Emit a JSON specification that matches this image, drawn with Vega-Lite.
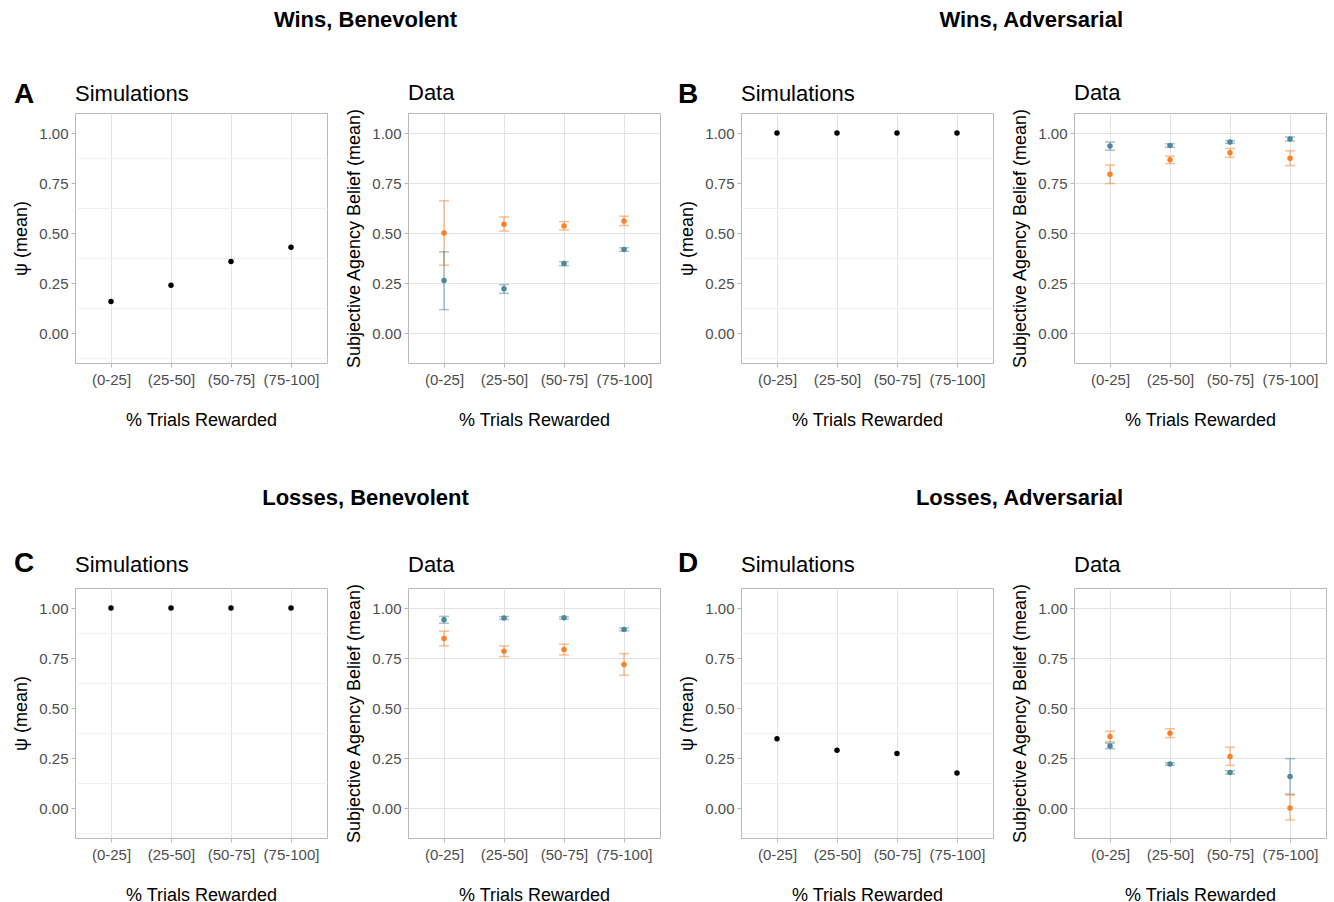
{
  "$schema": "https://vega.github.io/schema/vega-lite/v6.json",
  "padding": {"left": 12, "top": 0, "right": 5, "bottom": 4},
  "background": "white",
  "config": {
    "font": "Liberation Sans",
    "view": {"stroke": "#b8b8b8", "strokeWidth": 1},
    "axis": {"domain": false, "tickColor": "#b8b8b8", "tickSize": 4, "labelColor": "#4d4d4d", "labelFontSize": 15, "labelPadding": 3, "titleFontSize": 18, "titleFontWeight": "normal", "titleColor": "#000000", "grid": true, "gridColor": "#e4e4e4", "gridWidth": 1},
    "axisX": {"labelAngle": 0, "labelPadding": 5, "titlePadding": 24},
    "axisY": {"titlePadding": 8},
    "title": {"font": "Liberation Sans", "fontWeight": "normal", "fontSize": 22, "color": "#000000", "anchor": "start", "frame": "group", "baseline": "alphabetic"}
  },
  "datasets": {
    "sim": [
      {"panel": "A", "bin": "(0-25]", "psi": 0.157},
      {"panel": "A", "bin": "(25-50]", "psi": 0.239},
      {"panel": "A", "bin": "(50-75]", "psi": 0.358},
      {"panel": "A", "bin": "(75-100]", "psi": 0.429},
      {"panel": "B", "bin": "(0-25]", "psi": 1.0},
      {"panel": "B", "bin": "(25-50]", "psi": 1.0},
      {"panel": "B", "bin": "(50-75]", "psi": 1.0},
      {"panel": "B", "bin": "(75-100]", "psi": 1.0},
      {"panel": "C", "bin": "(0-25]", "psi": 1.0},
      {"panel": "C", "bin": "(25-50]", "psi": 1.0},
      {"panel": "C", "bin": "(50-75]", "psi": 1.0},
      {"panel": "C", "bin": "(75-100]", "psi": 1.0},
      {"panel": "D", "bin": "(0-25]", "psi": 0.346},
      {"panel": "D", "bin": "(25-50]", "psi": 0.289},
      {"panel": "D", "bin": "(50-75]", "psi": 0.273},
      {"panel": "D", "bin": "(75-100]", "psi": 0.175}
    ],
    "emp": [
      {"panel": "A", "group": "1", "bin": "(0-25]", "mean": 0.500, "lo": 0.339, "hi": 0.661},
      {"panel": "A", "group": "1", "bin": "(25-50]", "mean": 0.544, "lo": 0.510, "hi": 0.580},
      {"panel": "A", "group": "1", "bin": "(50-75]", "mean": 0.535, "lo": 0.515, "hi": 0.557},
      {"panel": "A", "group": "1", "bin": "(75-100]", "mean": 0.560, "lo": 0.537, "hi": 0.584},
      {"panel": "A", "group": "2", "bin": "(0-25]", "mean": 0.262, "lo": 0.117, "hi": 0.406},
      {"panel": "A", "group": "2", "bin": "(25-50]", "mean": 0.221, "lo": 0.198, "hi": 0.242},
      {"panel": "A", "group": "2", "bin": "(50-75]", "mean": 0.347, "lo": 0.337, "hi": 0.357},
      {"panel": "A", "group": "2", "bin": "(75-100]", "mean": 0.418, "lo": 0.409, "hi": 0.426},
      {"panel": "B", "group": "1", "bin": "(0-25]", "mean": 0.794, "lo": 0.747, "hi": 0.840},
      {"panel": "B", "group": "1", "bin": "(25-50]", "mean": 0.866, "lo": 0.847, "hi": 0.884},
      {"panel": "B", "group": "1", "bin": "(50-75]", "mean": 0.901, "lo": 0.878, "hi": 0.923},
      {"panel": "B", "group": "1", "bin": "(75-100]", "mean": 0.874, "lo": 0.837, "hi": 0.911},
      {"panel": "B", "group": "2", "bin": "(0-25]", "mean": 0.935, "lo": 0.914, "hi": 0.955},
      {"panel": "B", "group": "2", "bin": "(25-50]", "mean": 0.938, "lo": 0.929, "hi": 0.946},
      {"panel": "B", "group": "2", "bin": "(50-75]", "mean": 0.955, "lo": 0.948, "hi": 0.962},
      {"panel": "B", "group": "2", "bin": "(75-100]", "mean": 0.970, "lo": 0.960, "hi": 0.980},
      {"panel": "C", "group": "1", "bin": "(0-25]", "mean": 0.847, "lo": 0.810, "hi": 0.884},
      {"panel": "C", "group": "1", "bin": "(25-50]", "mean": 0.784, "lo": 0.757, "hi": 0.810},
      {"panel": "C", "group": "1", "bin": "(50-75]", "mean": 0.792, "lo": 0.765, "hi": 0.819},
      {"panel": "C", "group": "1", "bin": "(75-100]", "mean": 0.718, "lo": 0.664, "hi": 0.772},
      {"panel": "C", "group": "2", "bin": "(0-25]", "mean": 0.941, "lo": 0.924, "hi": 0.958},
      {"panel": "C", "group": "2", "bin": "(25-50]", "mean": 0.950, "lo": 0.943, "hi": 0.957},
      {"panel": "C", "group": "2", "bin": "(50-75]", "mean": 0.951, "lo": 0.945, "hi": 0.957},
      {"panel": "C", "group": "2", "bin": "(75-100]", "mean": 0.893, "lo": 0.886, "hi": 0.900},
      {"panel": "D", "group": "1", "bin": "(0-25]", "mean": 0.357, "lo": 0.331, "hi": 0.384},
      {"panel": "D", "group": "1", "bin": "(25-50]", "mean": 0.374, "lo": 0.352, "hi": 0.396},
      {"panel": "D", "group": "1", "bin": "(50-75]", "mean": 0.258, "lo": 0.213, "hi": 0.304},
      {"panel": "D", "group": "1", "bin": "(75-100]", "mean": 0.000, "lo": -0.060, "hi": 0.065},
      {"panel": "D", "group": "2", "bin": "(0-25]", "mean": 0.310, "lo": 0.297, "hi": 0.324},
      {"panel": "D", "group": "2", "bin": "(25-50]", "mean": 0.220, "lo": 0.214, "hi": 0.226},
      {"panel": "D", "group": "2", "bin": "(50-75]", "mean": 0.178, "lo": 0.170, "hi": 0.186},
      {"panel": "D", "group": "2", "bin": "(75-100]", "mean": 0.158, "lo": 0.069, "hi": 0.247}
    ]
  },
  "columns": 4,
  "bounds": "flush",
  "align": "each",
  "spacing": {"row": 112, "column": 81},
  "concat": [
    {"width": 1, "height": 1, "view": {"stroke": null}, "data": {"values": []}, "mark": "point",
     "title": {"text": "A", "orient": "bottom", "anchor": "start", "frame": "group", "dx": -61, "offset": 79.5, "fontSize": 28, "fontWeight": "bold"}},
    {"width": 1, "height": 1, "view": {"stroke": null}, "data": {"values": []}, "mark": "point",
     "title": {"text": "Wins, Benevolent", "orient": "bottom", "anchor": "middle", "frame": "group", "dx": -43, "offset": 9, "fontSize": 22, "fontWeight": "bold"}},
    {"width": 1, "height": 1, "view": {"stroke": null}, "data": {"values": []}, "mark": "point",
     "title": {"text": "B", "orient": "bottom", "anchor": "start", "frame": "group", "dx": -63, "offset": 79.5, "fontSize": 28, "fontWeight": "bold"}},
    {"width": 1, "height": 1, "view": {"stroke": null}, "data": {"values": []}, "mark": "point",
     "title": {"text": "Wins, Adversarial", "orient": "bottom", "anchor": "end", "frame": "group", "dx": 48, "offset": 9, "fontSize": 22, "fontWeight": "bold"}},

    {"width": 252, "height": 250, "title": {"text": "Simulations", "offset": 7},
     "data": {"name": "sim"}, "transform": [{"filter": {"field": "panel", "equal": "A"}}],
     "encoding": {"x": {"field": "bin", "type": "ordinal", "scale": {"type": "point", "padding": 0.6, "domain": ["(0-25]", "(25-50]", "(50-75]", "(75-100]"]}, "axis": {"title": "% Trials Rewarded"}}},
     "layer": [
       {"mark": {"type": "point", "opacity": 0}, "encoding": {"y": {"field": "psi", "type": "quantitative", "scale": {"domain": [-0.15, 1.1], "nice": false, "zero": false}, "axis": {"orient": "right", "values": [-0.125, 0.125, 0.375, 0.625, 0.875], "labels": false, "ticks": false, "title": null, "gridColor": "#f1f1f1"}}}},
       {"mark": {"type": "point", "filled": true, "size": 30, "color": "#000000", "opacity": 1}, "encoding": {"y": {"field": "psi", "type": "quantitative", "axis": {"title": "ψ (mean)", "values": [0, 0.25, 0.5, 0.75, 1], "format": ".2f"}}}}
     ],
     "resolve": {"axis": {"y": "independent"}}},
    {"width": 252, "height": 250, "title": {"text": "Data", "offset": 3},
     "data": {"name": "emp"}, "transform": [{"filter": {"field": "panel", "equal": "A"}}],
     "encoding": {"x": {"field": "bin", "type": "ordinal", "scale": {"type": "point", "padding": 0.6, "domain": ["(0-25]", "(25-50]", "(50-75]", "(75-100]"]}, "axis": {"title": "% Trials Rewarded"}},
       "color": {"field": "group", "type": "nominal", "scale": {"domain": ["1", "2"], "range": ["#FA8128", "#4D8799"]}, "legend": null}},
     "layer": [
       {"mark": {"type": "rule", "strokeWidth": 1.5, "opacity": 0.5}, "encoding": {"y": {"field": "lo", "type": "quantitative", "scale": {"domain": [-0.15, 1.1], "nice": false, "zero": false}, "axis": {"title": "Subjective Agency Belief (mean)", "values": [0, 0.25, 0.5, 0.75, 1], "format": ".2f"}}, "y2": {"field": "hi"}}},
       {"mark": {"type": "tick", "size": 10, "thickness": 1.5, "opacity": 0.5}, "encoding": {"y": {"field": "lo", "type": "quantitative", "axis": {"orient": "right", "values": [-0.125, 0.125, 0.375, 0.625, 0.875], "labels": false, "ticks": false, "title": null, "gridColor": "#f1f1f1"}}}},
       {"mark": {"type": "tick", "size": 10, "thickness": 1.5, "opacity": 0.5}, "encoding": {"y": {"field": "hi", "type": "quantitative", "axis": null}}},
       {"mark": {"type": "point", "filled": true, "size": 30, "opacity": 1}, "encoding": {"y": {"field": "mean", "type": "quantitative", "axis": null}}}
     ],
     "resolve": {"axis": {"y": "independent"}}},
    {"width": 252, "height": 250, "title": {"text": "Simulations", "offset": 7},
     "data": {"name": "sim"}, "transform": [{"filter": {"field": "panel", "equal": "B"}}],
     "encoding": {"x": {"field": "bin", "type": "ordinal", "scale": {"type": "point", "padding": 0.6, "domain": ["(0-25]", "(25-50]", "(50-75]", "(75-100]"]}, "axis": {"title": "% Trials Rewarded"}}},
     "layer": [
       {"mark": {"type": "point", "opacity": 0}, "encoding": {"y": {"field": "psi", "type": "quantitative", "scale": {"domain": [-0.15, 1.1], "nice": false, "zero": false}, "axis": {"orient": "right", "values": [-0.125, 0.125, 0.375, 0.625, 0.875], "labels": false, "ticks": false, "title": null, "gridColor": "#f1f1f1"}}}},
       {"mark": {"type": "point", "filled": true, "size": 30, "color": "#000000", "opacity": 1}, "encoding": {"y": {"field": "psi", "type": "quantitative", "axis": {"title": "ψ (mean)", "values": [0, 0.25, 0.5, 0.75, 1], "format": ".2f"}}}}
     ],
     "resolve": {"axis": {"y": "independent"}}},
    {"width": 252, "height": 250, "title": {"text": "Data", "offset": 3},
     "data": {"name": "emp"}, "transform": [{"filter": {"field": "panel", "equal": "B"}}],
     "encoding": {"x": {"field": "bin", "type": "ordinal", "scale": {"type": "point", "padding": 0.6, "domain": ["(0-25]", "(25-50]", "(50-75]", "(75-100]"]}, "axis": {"title": "% Trials Rewarded"}},
       "color": {"field": "group", "type": "nominal", "scale": {"domain": ["1", "2"], "range": ["#FA8128", "#4D8799"]}, "legend": null}},
     "layer": [
       {"mark": {"type": "rule", "strokeWidth": 1.5, "opacity": 0.5}, "encoding": {"y": {"field": "lo", "type": "quantitative", "scale": {"domain": [-0.15, 1.1], "nice": false, "zero": false}, "axis": {"title": "Subjective Agency Belief (mean)", "values": [0, 0.25, 0.5, 0.75, 1], "format": ".2f"}}, "y2": {"field": "hi"}}},
       {"mark": {"type": "tick", "size": 10, "thickness": 1.5, "opacity": 0.5}, "encoding": {"y": {"field": "lo", "type": "quantitative", "axis": {"orient": "right", "values": [-0.125, 0.125, 0.375, 0.625, 0.875], "labels": false, "ticks": false, "title": null, "gridColor": "#f1f1f1"}}}},
       {"mark": {"type": "tick", "size": 10, "thickness": 1.5, "opacity": 0.5}, "encoding": {"y": {"field": "hi", "type": "quantitative", "axis": null}}},
       {"mark": {"type": "point", "filled": true, "size": 30, "opacity": 1}, "encoding": {"y": {"field": "mean", "type": "quantitative", "axis": null}}}
     ],
     "resolve": {"axis": {"y": "independent"}}},

    {"width": 1, "height": 1, "view": {"stroke": null}, "data": {"values": []}, "mark": "point",
     "title": {"text": "C", "orient": "bottom", "anchor": "start", "frame": "group", "dx": -61, "offset": 74, "fontSize": 28, "fontWeight": "bold"}},
    {"width": 1, "height": 1, "view": {"stroke": null}, "data": {"values": []}, "mark": "point",
     "title": {"text": "Losses, Benevolent", "orient": "bottom", "anchor": "middle", "frame": "group", "dx": -43, "offset": 12, "fontSize": 22, "fontWeight": "bold"}},
    {"width": 1, "height": 1, "view": {"stroke": null}, "data": {"values": []}, "mark": "point",
     "title": {"text": "D", "orient": "bottom", "anchor": "start", "frame": "group", "dx": -63, "offset": 74, "fontSize": 28, "fontWeight": "bold"}},
    {"width": 1, "height": 1, "view": {"stroke": null}, "data": {"values": []}, "mark": "point",
     "title": {"text": "Losses, Adversarial", "orient": "bottom", "anchor": "end", "frame": "group", "dx": 48, "offset": 12, "fontSize": 22, "fontWeight": "bold"}},

    {"width": 252, "height": 250, "title": {"text": "Simulations", "offset": 11},
     "data": {"name": "sim"}, "transform": [{"filter": {"field": "panel", "equal": "C"}}],
     "encoding": {"x": {"field": "bin", "type": "ordinal", "scale": {"type": "point", "padding": 0.6, "domain": ["(0-25]", "(25-50]", "(50-75]", "(75-100]"]}, "axis": {"title": "% Trials Rewarded"}}},
     "layer": [
       {"mark": {"type": "point", "opacity": 0}, "encoding": {"y": {"field": "psi", "type": "quantitative", "scale": {"domain": [-0.15, 1.1], "nice": false, "zero": false}, "axis": {"orient": "right", "values": [-0.125, 0.125, 0.375, 0.625, 0.875], "labels": false, "ticks": false, "title": null, "gridColor": "#f1f1f1"}}}},
       {"mark": {"type": "point", "filled": true, "size": 30, "color": "#000000", "opacity": 1}, "encoding": {"y": {"field": "psi", "type": "quantitative", "axis": {"title": "ψ (mean)", "values": [0, 0.25, 0.5, 0.75, 1], "format": ".2f"}}}}
     ],
     "resolve": {"axis": {"y": "independent"}}},
    {"width": 252, "height": 250, "title": {"text": "Data", "offset": 6},
     "data": {"name": "emp"}, "transform": [{"filter": {"field": "panel", "equal": "C"}}],
     "encoding": {"x": {"field": "bin", "type": "ordinal", "scale": {"type": "point", "padding": 0.6, "domain": ["(0-25]", "(25-50]", "(50-75]", "(75-100]"]}, "axis": {"title": "% Trials Rewarded"}},
       "color": {"field": "group", "type": "nominal", "scale": {"domain": ["1", "2"], "range": ["#FA8128", "#4D8799"]}, "legend": null}},
     "layer": [
       {"mark": {"type": "rule", "strokeWidth": 1.5, "opacity": 0.5}, "encoding": {"y": {"field": "lo", "type": "quantitative", "scale": {"domain": [-0.15, 1.1], "nice": false, "zero": false}, "axis": {"title": "Subjective Agency Belief (mean)", "values": [0, 0.25, 0.5, 0.75, 1], "format": ".2f"}}, "y2": {"field": "hi"}}},
       {"mark": {"type": "tick", "size": 10, "thickness": 1.5, "opacity": 0.5}, "encoding": {"y": {"field": "lo", "type": "quantitative", "axis": {"orient": "right", "values": [-0.125, 0.125, 0.375, 0.625, 0.875], "labels": false, "ticks": false, "title": null, "gridColor": "#f1f1f1"}}}},
       {"mark": {"type": "tick", "size": 10, "thickness": 1.5, "opacity": 0.5}, "encoding": {"y": {"field": "hi", "type": "quantitative", "axis": null}}},
       {"mark": {"type": "point", "filled": true, "size": 30, "opacity": 1}, "encoding": {"y": {"field": "mean", "type": "quantitative", "axis": null}}}
     ],
     "resolve": {"axis": {"y": "independent"}}},
    {"width": 252, "height": 250, "title": {"text": "Simulations", "offset": 11},
     "data": {"name": "sim"}, "transform": [{"filter": {"field": "panel", "equal": "D"}}],
     "encoding": {"x": {"field": "bin", "type": "ordinal", "scale": {"type": "point", "padding": 0.6, "domain": ["(0-25]", "(25-50]", "(50-75]", "(75-100]"]}, "axis": {"title": "% Trials Rewarded"}}},
     "layer": [
       {"mark": {"type": "point", "opacity": 0}, "encoding": {"y": {"field": "psi", "type": "quantitative", "scale": {"domain": [-0.15, 1.1], "nice": false, "zero": false}, "axis": {"orient": "right", "values": [-0.125, 0.125, 0.375, 0.625, 0.875], "labels": false, "ticks": false, "title": null, "gridColor": "#f1f1f1"}}}},
       {"mark": {"type": "point", "filled": true, "size": 30, "color": "#000000", "opacity": 1}, "encoding": {"y": {"field": "psi", "type": "quantitative", "axis": {"title": "ψ (mean)", "values": [0, 0.25, 0.5, 0.75, 1], "format": ".2f"}}}}
     ],
     "resolve": {"axis": {"y": "independent"}}},
    {"width": 252, "height": 250, "title": {"text": "Data", "offset": 6},
     "data": {"name": "emp"}, "transform": [{"filter": {"field": "panel", "equal": "D"}}],
     "encoding": {"x": {"field": "bin", "type": "ordinal", "scale": {"type": "point", "padding": 0.6, "domain": ["(0-25]", "(25-50]", "(50-75]", "(75-100]"]}, "axis": {"title": "% Trials Rewarded"}},
       "color": {"field": "group", "type": "nominal", "scale": {"domain": ["1", "2"], "range": ["#FA8128", "#4D8799"]}, "legend": null}},
     "layer": [
       {"mark": {"type": "rule", "strokeWidth": 1.5, "opacity": 0.5}, "encoding": {"y": {"field": "lo", "type": "quantitative", "scale": {"domain": [-0.15, 1.1], "nice": false, "zero": false}, "axis": {"title": "Subjective Agency Belief (mean)", "values": [0, 0.25, 0.5, 0.75, 1], "format": ".2f"}}, "y2": {"field": "hi"}}},
       {"mark": {"type": "tick", "size": 10, "thickness": 1.5, "opacity": 0.5}, "encoding": {"y": {"field": "lo", "type": "quantitative", "axis": {"orient": "right", "values": [-0.125, 0.125, 0.375, 0.625, 0.875], "labels": false, "ticks": false, "title": null, "gridColor": "#f1f1f1"}}}},
       {"mark": {"type": "tick", "size": 10, "thickness": 1.5, "opacity": 0.5}, "encoding": {"y": {"field": "hi", "type": "quantitative", "axis": null}}},
       {"mark": {"type": "point", "filled": true, "size": 30, "opacity": 1}, "encoding": {"y": {"field": "mean", "type": "quantitative", "axis": null}}}
     ],
     "resolve": {"axis": {"y": "independent"}}}
  ]
}
